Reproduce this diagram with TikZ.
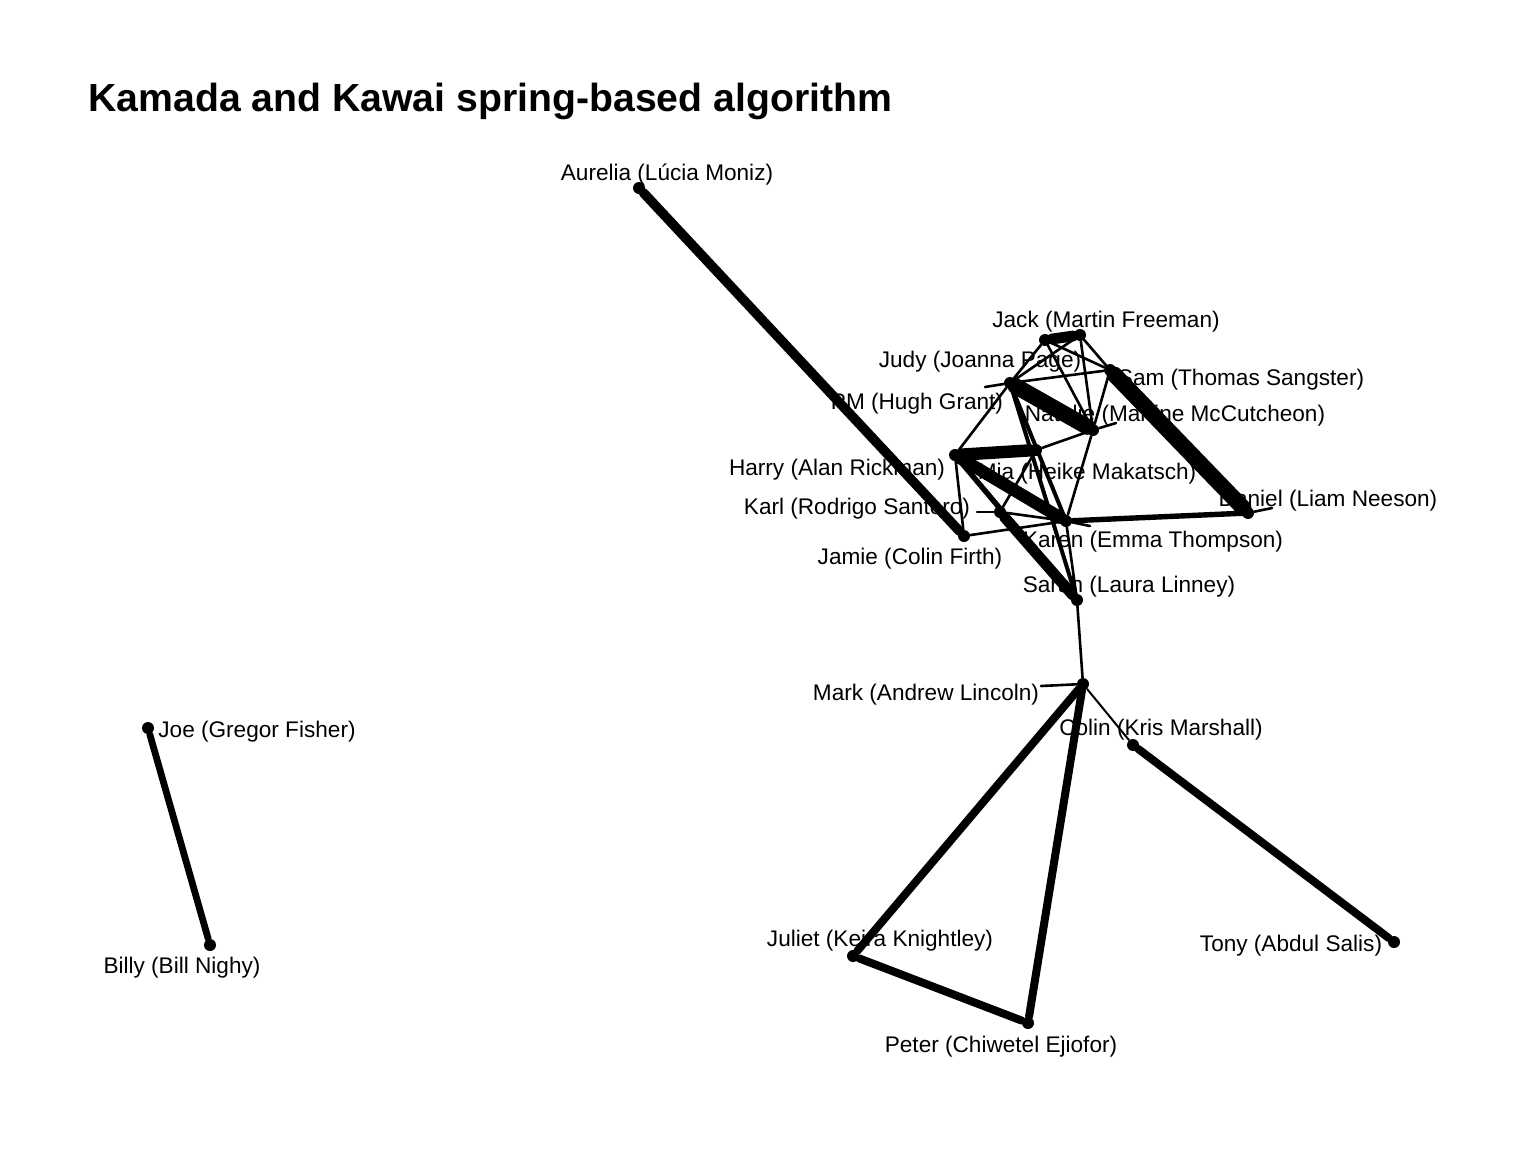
\documentclass[tikz,border=0pt]{standalone}
\usepackage{fontspec}
\setmainfont{Liberation Sans}
\usepackage{tikz}
\usetikzlibrary{positioning}

\tikzset{
	dot/.style={circle, fill=black, inner sep=0pt, minimum size=6pt},
	lbl/.style={inner sep=0pt, font=\fontsize{11.3}{13}\selectfont},
	edgethin/.style={line width=1.3pt, line cap=round},
	edgelight/.style={line width=2pt, line cap=round},
	edgemid/.style={line width=2.7pt, line cap=round},
	edgewide/.style={line width=4pt, line cap=round},
	edgebold/.style={line width=5.4pt, line cap=round},
	edgeheavy/.style={line width=8pt, line cap=round}
}

\begin{document}
\begin{tikzpicture}[x=0.5pt,
				y=-0.5pt,
				black]
				\useasboundingbox (0,0) rectangle (1536,1152);
				\node at (88,111) (title) [anchor=base west, inner sep=0pt, font=\fontsize{19.6}{23}\selectfont\bfseries] {Kamada and Kawai spring-based algorithm};
				% people
				\node at (639,188) (aurelia) [dot] {};
				\node at (1080,335) (jack) [dot] {};
				\node at (1045,340) (judy) [dot] {};
				\node at (1110,370) (sam) [dot] {};
				\node at (1010,383) (pm) [dot] {};
				\node at (1093,430) (natalie) [dot] {};
				\node at (955,455) (harry) [dot] {};
				\node at (1036,450) (mia) [dot] {};
				\node at (1000,512) (karl) [dot] {};
				\node at (1248,513) (daniel) [dot] {};
				\node at (1066,521) (karen) [dot] {};
				\node at (964,536) (jamie) [dot] {};
				\node at (1077,600) (sarah) [dot] {};
				\node at (1083,684) (mark) [dot] {};
				\node at (1133,745) (colin) [dot] {};
				\node at (148,728) (joe) [dot] {};
				\node at (210,945) (billy) [dot] {};
				\node at (853,956) (juliet) [dot] {};
				\node at (1394,942) (tony) [dot] {};
				\node at (1028,1023) (peter) [dot] {};
				% loose ends
				\coordinate (pmstub) at (985,387);
				\coordinate (nataliestub) at (1116,423);
				\coordinate (danielstub) at (1272,508);
				\coordinate (karlstub) at (977,512);
				\coordinate (karenstub) at (1090,526);
				\coordinate (markstub) at (1041,686);
				% ties
				\draw[edgeheavy] (pm) -- (natalie);
				\draw[edgeheavy] (sam) -- (daniel);
				\draw[line width=6.2pt, line cap=round] (harry) -- (karen);
				\draw[line width=6.2pt, line cap=round] (harry) -- (mia);
				\draw[edgebold] (judy) -- (jack);
				\draw[edgebold] (karl) -- (sarah);
				\draw[line width=4.8pt, line cap=round] (aurelia) -- (jamie);
				\draw[edgewide] (mark) -- (juliet);
				\draw[edgewide] (mark) -- (peter);
				\draw[edgewide] (juliet) -- (peter);
				\draw[edgewide] (colin) -- (tony);
				\draw[line width=3.4pt, line cap=round] (joe) -- (billy);
				\draw[edgemid] (karen) -- (daniel);
				\draw[edgemid] (harry) -- (sarah);
				\draw[edgelight] (pm) -- (karen);
				\draw[edgelight] (pm) -- (sarah);
				\draw[edgethin] (judy) -- (pm);
				\draw[edgethin] (jack) -- (pm);
				\draw[edgethin] (judy) -- (sam);
				\draw[edgethin] (jack) -- (sam);
				\draw[edgethin] (judy) -- (natalie);
				\draw[edgethin] (jack) -- (natalie);
				\draw[edgethin] (pm) -- (sam);
				\draw[edgethin] (sam) -- (natalie);
				\draw[edgethin] (natalie) -- (karen);
				\draw[edgethin] (mia) -- (natalie);
				\draw[edgethin] (mia) -- (karl);
				\draw[edgethin] (harry) -- (pm);
				\draw[edgethin] (harry) -- (jamie);
				\draw[edgethin] (jamie) -- (karen);
				\draw[edgethin] (karl) -- (karen);
				\draw[edgethin] (karen) -- (sarah);
				\draw[edgethin] (sarah) -- (mark);
				\draw[line width=1pt, line cap=round] (mark) -- (colin);
				\draw[edgethin] (pm) -- (pmstub);
				\draw[edgethin] (natalie) -- (nataliestub);
				\draw[edgethin] (daniel) -- (danielstub);
				\draw[edgethin] (karl) -- (karlstub);
				\draw[edgethin] (karen) -- (karenstub);
				\draw[edgethin] (mark) -- (markstub);
				% names
				\node at (667,175) (aurelial) [lbl] {Aurelia (Lúcia Moniz)};
				\node at (1106,322) (jackl) [lbl] {Jack (Martin Freeman)};
				\node at (980,362) (judyl) [lbl] {Judy (Joanna Page)};
				\node at (1241,380) (saml) [lbl] {Sam (Thomas Sangster)};
				\node at (917,404) (pml) [lbl] {PM (Hugh Grant)};
				\node at (1175,416) (nataliel) [lbl] {Natalie (Martine McCutcheon)};
				\node at (837,470) (harryl) [lbl] {Harry (Alan Rickman)};
				\node at (1087,474) (mial) [lbl] {Mia (Heike Makatsch)};
				\node at (1328,501) (daniell) [lbl] {Daniel (Liam Neeson)};
				\node at (857,509) (karll) [lbl] {Karl (Rodrigo Santoro)};
				\node at (1153,542) (karenl) [lbl] {Karen (Emma Thompson)};
				\node at (910,559) (jamiel) [lbl] {Jamie (Colin Firth)};
				\node at (1129,587) (sarahl) [lbl] {Sarah (Laura Linney)};
				\node at (926,695) (markl) [lbl] {Mark (Andrew Lincoln)};
				\node at (1161,730) (colinl) [lbl] {Colin (Kris Marshall)};
				\node at (257,732) (joel) [lbl] {Joe (Gregor Fisher)};
				\node at (182,968) (billyl) [lbl] {Billy (Bill Nighy)};
				\node at (880,941) (julietl) [lbl] {Juliet (Keira Knightley)};
				\node at (1291,946) (tonyl) [lbl] {Tony (Abdul Salis)};
				\node at (1001,1047) (peterl) [lbl] {Peter (Chiwetel Ejiofor)};
			\end{tikzpicture}
\end{document}
